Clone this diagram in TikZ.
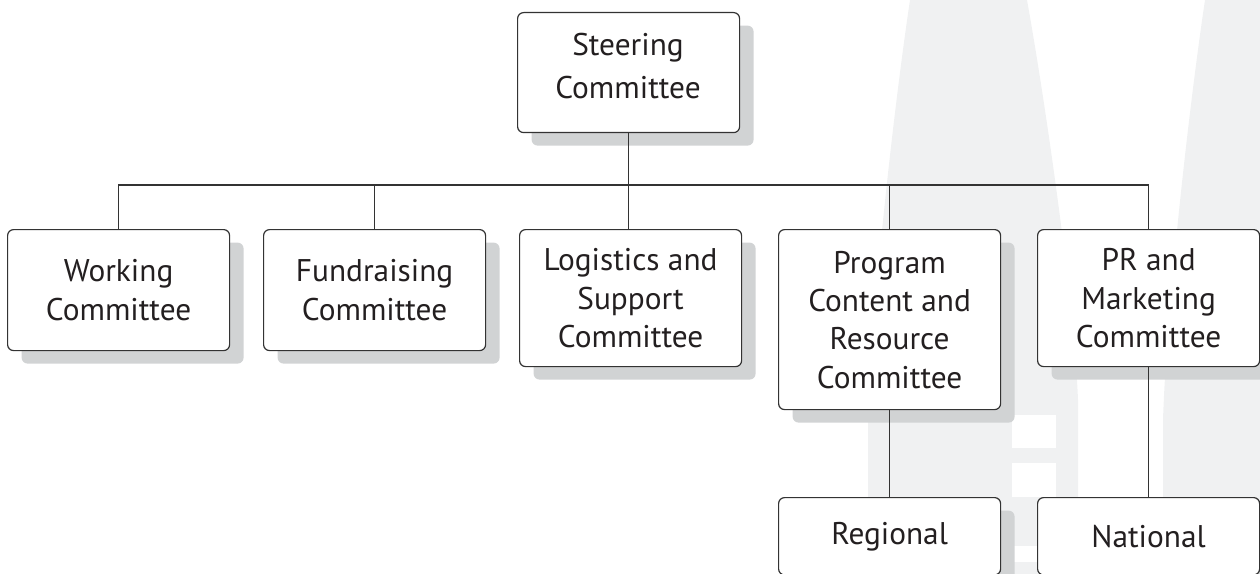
\documentclass[tikz,border=0pt]{standalone}
\usepackage{fontspec}
\setmainfont{PT Sans}
\usetikzlibrary{shadows}
\definecolor{bandgray}{HTML}{F0F1F2}
\definecolor{shadowgray}{HTML}{D1D3D4}
\definecolor{linegray}{HTML}{333333}
\definecolor{textdark}{HTML}{231F20}
\tikzset{
  orgbox/.style={draw=linegray, line width=0.9pt, fill=white, rounded corners=4.5pt,
    minimum width=166.5pt, align=center, anchor=north west, inner sep=0pt,
    font=\fontsize{23.5}{28.75}\selectfont, text=textdark,
    drop shadow={shadow xshift=10.5pt, shadow yshift=-9.75pt, fill=shadowgray, opacity=1}},
  boxtext/.style={align=center, inner sep=0pt, text=textdark},
  link/.style={draw=linegray, line width=1pt}
}
\begin{document}
\begin{tikzpicture}[x=0.75pt, y=-0.75pt]
\useasboundingbox (0,0) rectangle (1260,574);
\clip (0,0) rectangle (1260,574);
% background watermark bands
\fill[bandgray] (910,0) .. controls (895,100) and (872,300) .. (868,420) -- (868,600)
  -- (1078,600) -- (1078,400) .. controls (1074,300) and (1045,100) .. (1027,0) -- cycle;
\fill[bandgray] (1205,0) .. controls (1190,100) and (1167,300) .. (1163,420) -- (1163,600)
  -- (1270,600) -- (1270,0) -- cycle;
\fill[white] (1012,415) rectangle (1056,448);
\fill[white] (1012,463) rectangle (1056,497);
\fill[white] (1012,546) rectangle (1040,562);
% nodes
\node[orgbox, minimum height=90pt]  (steer) at (517,12)  {};
\node[boxtext, font=\fontsize{23.5}{32.5}\selectfont] (steertext) at (628,66) {Steering\\Committee};
\node[orgbox, minimum height=90.75pt] (work) at (7,229)  {Working\\Committee};
\node[orgbox, minimum height=90.75pt] (fund) at (263,229) {Fundraising\\Committee};
\node[orgbox, minimum height=102.75pt] (log)  at (519,229) {Logistics and\\Support\\Committee};
\node[orgbox, minimum height=135pt] (prog) at (778,229) {Program\\Content and\\Resource\\Committee};
\node[orgbox, minimum height=102.75pt] (pr) at (1037,229) {PR and\\Marketing\\Committee};
\node[orgbox, minimum height=58pt]  (reg)  at (778,497) {Regional};
\node[orgbox, minimum height=58pt]  (nat)  at (1037,497) {National};
% connectors
\coordinate (bus) at (628,185);
\draw[link] (steer.south) -- (steer.south |- log.north);
\draw[link] (work.north) -- (work.north |- bus) -| (pr.north);
\draw[link] (fund.north) -- (fund.north |- bus);
\draw[link] (prog.north) -- (prog.north |- bus);
\draw[link] (prog.south) -- (reg.north);
\draw[link] (pr.south) -- (nat.north);
\end{tikzpicture}
\end{document}
